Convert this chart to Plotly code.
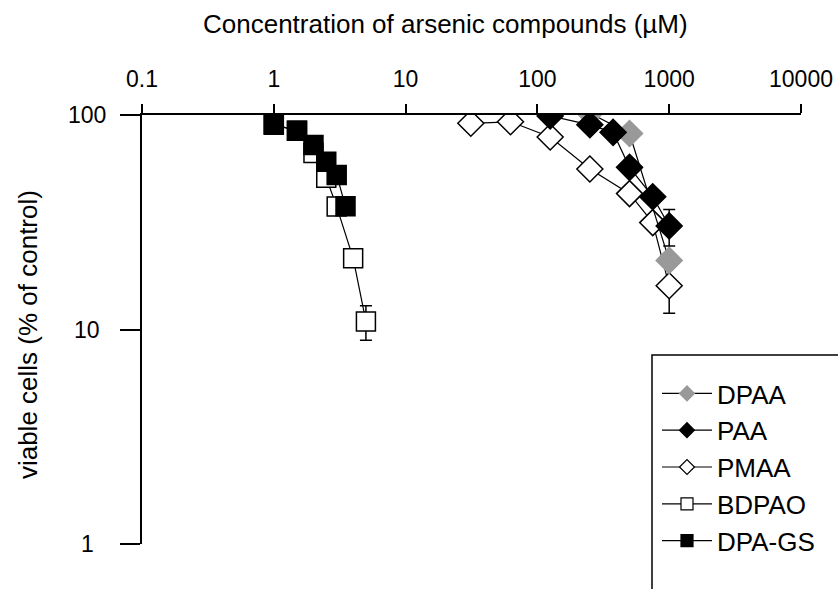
import math
import plotly.graph_objects as go

# ---- data ----
dpaa_x = [250, 500, 1000]
dpaa_y = [102, 82, 21]
dpaa_err = [0, 0, 0]

paa_x = [125, 250, 375, 500, 750, 1000]
paa_y = [99, 90, 83, 57, 41.6, 30.4]
paa_err = [0, 0, 0, 0, 0, 5.9]

pmaa_x = [31.25, 62.5, 125, 250, 500, 750, 1000]
pmaa_y = [91.5, 93, 79, 56, 43, 31.5, 16]
pmaa_err = [0, 0, 0, 0, 0, 0, 4.1]

bdpao_x = [1, 1.5, 2, 2.5, 3, 4, 5]
bdpao_y = [90, 84.5, 66.5, 51, 37.4, 21.5, 10.9]
bdpao_err = [0, 0, 0, 0, 0, 0, 2.0]

dpags_x = [1, 1.5, 2, 2.5, 3, 3.5]
dpags_y = [90.5, 84.5, 72.5, 60.5, 52.5, 37.5]

x_ticks = [0.1, 1, 10, 100, 1000, 10000]
x_ticktext = ["0.1", "1", "10", "100", "1000", "10000"]
y_ticks = [1, 10, 100]
y_ticktext = ["1", "10", "100"]

x_title = "Concentration of arsenic compounds (µM)"
y_title = "viable cells (% of control)"

FONT = "Liberation Sans, Arial, sans-serif"
LINE = dict(color="black", width=1.2)
ERR = dict(type="data", color="black", thickness=1.5, width=6)

# series styles: name -> (symbol, fill, outline, legend rank)
styles = {
    "DPAA": ("diamond", "#999999", "#999999", 1),
    "PAA": ("diamond", "black", "black", 2),
    "PMAA": ("diamond", "white", "black", 3),
    "BDPAO": ("square", "white", "black", 4),
    "DPA-GS": ("square", "black", "black", 5),
}

fig = go.Figure()


def add_series(name, xs, ys, err=None):
    sym, fill, edge, _ = styles[name]
    size = 20 if sym == "diamond" else 19
    kw = {}
    if err is not None:
        kw["error_y"] = dict(array=err, **ERR)
    fig.add_trace(go.Scatter(
        x=xs, y=ys, name=name, mode="lines+markers", showlegend=False,
        line=LINE, marker=dict(symbol=sym, size=size, color=fill,
                               line=dict(color=edge, width=1.5)), **kw))


# draw order: PMAA, DPAA, PAA, BDPAO, DPA-GS
add_series("PMAA", pmaa_x, pmaa_y, pmaa_err)
add_series("DPAA", dpaa_x, dpaa_y, dpaa_err)
add_series("PAA", paa_x, paa_y, paa_err)
add_series("BDPAO", bdpao_x, bdpao_y, bdpao_err)
add_series("DPA-GS", dpags_x, dpags_y)

# legend-only entries (smaller legend symbols, as in the reference)
for name, (sym, fill, edge, rank) in styles.items():
    fig.add_trace(go.Scatter(
        x=[None], y=[None], name=name, mode="lines+markers", legendrank=rank,
        legendgroup=name, line=LINE,
        marker=dict(symbol=sym, size=11.5 if sym == "diamond" else 12,
                    color=fill, line=dict(color=edge, width=1.2))))

annotations = [
    dict(text=x_title, xref="paper", yref="paper", x=0.461, y=(544 - 24) / 429,
         xanchor="center", yanchor="middle", showarrow=False,
         font=dict(family=FONT, size=26, color="black")),
    dict(text=y_title, xref="paper", yref="paper", x=(28 - 142) / 659, y=0.487,
         xanchor="center", yanchor="middle", showarrow=False, textangle=-90,
         font=dict(family=FONT, size=26, color="black")),
]
for v, t in zip(y_ticks, y_ticktext):
    annotations.append(dict(text=t, xref="paper", yref="y", x=(87 - 142) / 659,
                            y=math.log10(v), xanchor="center", yanchor="middle",
                            showarrow=False,
                            font=dict(family=FONT, size=23, color="black")))

fig.update_layout(
    width=838, height=589,
    margin=dict(l=142, r=37, t=115, b=45, pad=0, autoexpand=False),
    paper_bgcolor="white", plot_bgcolor="white",
    font=dict(family=FONT, size=23, color="black"),
    xaxis=dict(type="log", range=[-1, 4], side="top", showline=True,
               linecolor="black", linewidth=1.5, ticks="outside", ticklen=9,
               tickwidth=1.5, tickcolor="black", tickvals=x_ticks,
               ticktext=x_ticktext, showgrid=False, zeroline=False,
               ticklabelstandoff=8, automargin=False,
               tickfont=dict(family=FONT, size=23, color="black")),
    yaxis=dict(type="log", range=[0, 2], showline=True, linecolor="black",
               linewidth=1.5, ticks="outside", ticklen=20, tickwidth=1.5,
               tickcolor="black", tickvals=y_ticks, showticklabels=False,
               showgrid=False, zeroline=False, automargin=False),
    legend=dict(x=(657 - 142) / 659, y=(544 - 370) / 429, xanchor="left",
                yanchor="top", bgcolor="rgba(0,0,0,0)", borderwidth=0,
                itemwidth=50, tracegroupgap=0,
                font=dict(family=FONT, size=26, color="black")),
    annotations=annotations,
    shapes=[dict(type="rect", xref="paper", yref="paper",
                 x0=(652 - 142) / 659, x1=1.3, y0=-0.4, y1=(544 - 355) / 429,
                 line=dict(color="black", width=1.5), fillcolor="rgba(0,0,0,0)")],
)

fig.write_html("out.html")
